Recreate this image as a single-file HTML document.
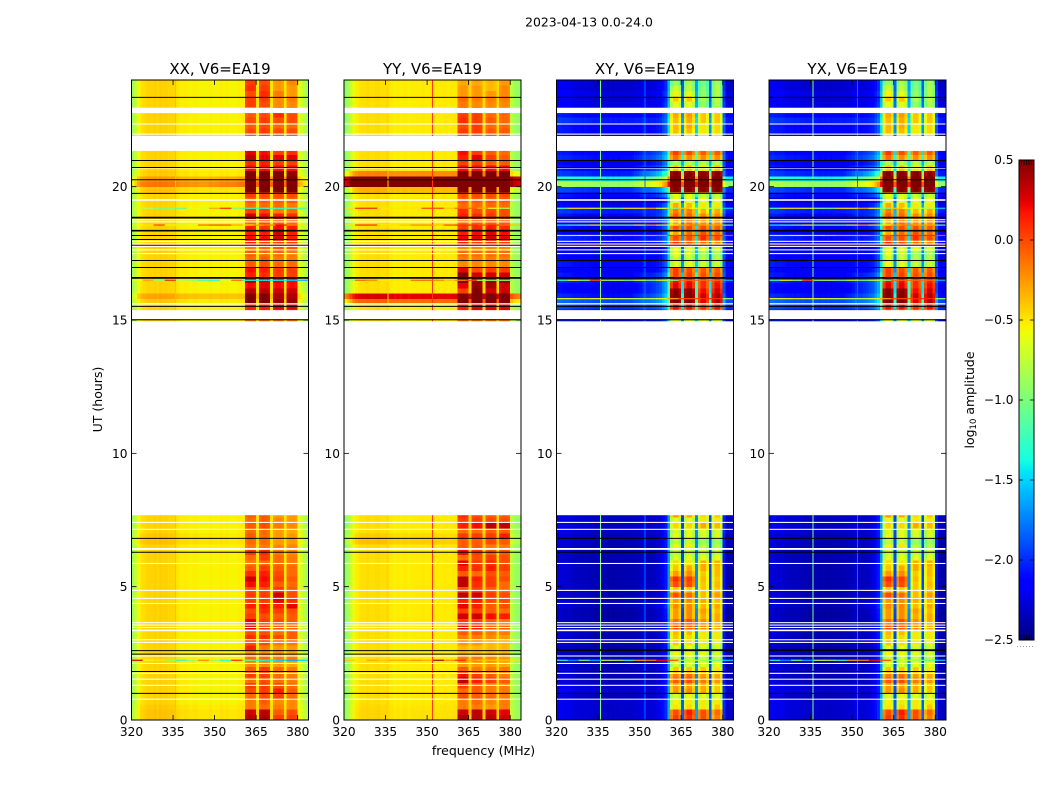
<!DOCTYPE html>
<html lang="en">
<head>
<meta charset="utf-8">
<title>2023-04-13 0.0-24.0</title>
<style>
html,body{margin:0;padding:0;background:#fff;width:1050px;height:800px;overflow:hidden}
svg{display:block}
text{font-family:"DejaVu Sans","Liberation Sans",sans-serif;fill:#000}
</style>
</head>
<body>
<svg id="chart" xmlns="http://www.w3.org/2000/svg" width="1050" height="800" viewBox="0 0 1050 800">
  <rect x="0" y="0" width="1050" height="800" fill="#fff"/>
  <text x="589" y="26.5" font-size="12.4" text-anchor="middle">2023-04-13 0.0-24.0</text>
  <text x="483.5" y="755" font-size="12.5" text-anchor="middle">frequency (MHz)</text>
  <text x="0" y="0" font-size="12.5" text-anchor="middle" transform="translate(102,399.5) rotate(-90)">UT (hours)</text>
  <text x="0" y="0" font-size="12.5" text-anchor="middle" transform="translate(974,400) rotate(-90)">log<tspan font-size="8.5" dy="2">10</tspan><tspan dy="-2"> amplitude</tspan></text>
  <g id="panels"></g>
  <g id="colorbar"></g>
</svg>
<script>
/* ---- axis data ---- */
const panelTitles = ["XX, V6=EA19", "YY, V6=EA19", "XY, V6=EA19", "YX, V6=EA19"];
const xTickLabels = [320, 335, 350, 365, 380];
const yTickLabels = [0, 5, 10, 15, 20];
const colorbarTicks = [-2.5, -2.0, -1.5, -1.0, -0.5, 0.0, 0.5];

/* ---- no-data bands, [start UT, end UT] ---- */
const gapBands = [
  [7.68,14.95],[15.03,15.37],[15.58,15.63],[17.47,17.51],[17.61,17.65],[17.74,17.78],[17.83,17.87],[17.93,17.97],
  [18.66,18.7],[18.74,18.78],[19.47,19.53],[20.68,20.71],[21.34,21.9],[21.95,21.99],[22.33,22.37],[22.76,22.96],
  [0.76,0.8],[1.28,1.32],[1.51,1.55],[1.73,1.77],[2.1,2.14],[2.38,2.42],[2.89,2.93],[2.99,3.03],[3.33,3.39],
  [3.45,3.49],[3.54,3.58],[3.63,3.67],[4.35,4.39],[4.54,4.58],[4.84,4.88],[5.85,5.89],[6.38,6.45],[7.13,7.17],[7.39,7.43]
];
/* ---- black flagged lines, UT ---- */
const thinLinesUT = [1.0,1.82,2.6,2.47,6.29,6.81,15.01,15.51,17.23,16.97,18.02,18.17,19.75,20.26,20.72,20.98,23.35];
const thickLinesUT = [16.58,18.35,18.84];
const xyThinLinesUT = [1.0,1.82,2.6,6.29,6.81,15.01,15.51,17.23,16.97,19.75,20.26,20.72,20.98,23.35];
const xyThickLinesUT = [16.58,18.35,18.84,2.62];

/* ---- channel grouping: 64 channels of 1 MHz from 320 MHz ---- */
const firstFrequency = 320;
const channelWidthMHz = 1;
const midChannels = [26, 40];
const bandChannels = [[41,44],[46,49],[51,54],[56,59]];

/* ---- quiet-time spectrum per polarisation ---- */
const xxSpectrum = [-.85,-.72,-.58,-.5,-.47,-.45,-.44,-.45,-.43,-.45,-.42,-.44,-.43,-.45,-.45,-.45,
  -.49,-.52,-.53,-.52,-.53,-.55,-.53,-.53,-.55,-.55,-.55,-.55,-.53,-.55,-.55,-.55,-.53,-.55,-.53,-.55,-.55,-.55,-.53,-.53,-.53,
  -.08,-.05,-.05,-.08,-.48,-.08,-.05,-.05,-.08,-.5,-.08,-.05,-.05,-.08,-.5,-.08,-.05,-.05,-.08,-.62,-.7,-.78,-.83];
const yySpectrum = [-.93,-.84,-.72,-.58,-.53,-.5,-.48,-.48,-.47,-.48,-.48,-.47,-.46,-.48,-.48,-.47,
  -.51,-.52,-.54,-.52,-.54,-.52,-.52,-.54,-.52,-.52,-.52,-.52,-.51,-.52,-.52,-.51,-.51,-.52,-.52,-.52,-.51,-.52,-.52,-.51,-.51,
  -.08,-.05,-.05,-.08,-.43,-.08,-.05,-.05,-.08,-.46,-.08,-.05,-.05,-.08,-.46,-.08,-.05,-.05,-.08,-.78,-.86,-.9,-.93];
const xySpectrum = [-2.3,-2.3,-2.32,-2.32,-2.32,-2.34,-2.36,-2.36,-2.36,-2.38,-2.36,-2.38,-2.38,-2.4,-2.4,-2.4,
  -2.4,-2.4,-2.42,-2.4,-2.42,-2.4,-2.42,-2.4,-2.4,-2.4,-2.4,-2.4,-2.38,-2.38,-2.36,-2.3,-2.36,-2.38,-2.36,-2.36,-2.33,-2.3,-2.2,-2.1,-1.7,
  -.1,.1,.1,-.1,-1.95,-.1,.1,.1,-.1,-1.75,-.1,.1,.1,-.1,-1.95,-.1,.1,.1,-.1,-2.1,-2.4,-2.42,-2.42];

/* ---- time rows: [UT, out-of-band delta, mid delta, band1..band4 level] ---- */
const rowHours = 0.2;
const xxRows = [
[0,.05,.05,.4,.45,.1,.1],[.2,.05,.05,.35,.4,0,.05],[.4,.03,.03,-.1,-.05,-.1,-.15],[.6,0,0,-.1,0,-.15,-.15],[.8,0,0,-.05,.05,.1,-.05],
[1,0,0,.05,.1,.2,0],[1.2,0,0,.1,.1,.05,-.05],[1.4,0,0,-.05,.05,-.05,-.1],[1.6,0,0,.1,.1,-.05,-.1],[1.8,0,0,0,.1,-.05,-.1],
[2,0,0,-.15,-.15,-.2,-.25],[2.2,0,0,-.05,-.05,-.1,-.1],[2.4,0,0,-.2,-.2,-.2,-.25],[2.6,0,0,.2,-.1,-.2,-.2],[2.8,0,0,.05,.05,-.1,-.1],
[3,0,0,.15,.15,.05,0],[3.2,0,0,.05,.05,-.05,0],[3.4,0,0,.3,.1,0,-.05],[3.6,0,0,.3,.1,.05,0],[3.8,0,0,.1,.05,0,0],
[4,0,0,.05,.15,.1,.05],[4.2,0,0,.2,.2,.2,.3],[4.4,0,0,.1,.1,.3,.15],[4.6,0,0,.1,.1,.35,.05],[4.8,0,0,.05,.05,.1,0],
[5,0,0,.25,.2,0,-.05],[5.2,0,0,.35,.25,.1,0],[5.4,0,0,.15,.2,.05,-.05],[5.6,0,0,0,.1,0,-.05],[5.8,0,0,-.1,-.05,-.05,-.1],
[6,0,0,-.05,.1,-.05,-.1],[6.2,0,0,.1,.15,-.1,-.15],[6.4,0,0,-.1,-.1,-.15,-.15],[6.6,.06,.04,-.05,-.05,-.2,-.2],[6.8,.04,.02,0,-.05,-.2,-.2],
[7,0,0,-.05,-.05,-.2,-.25],[7.2,0,0,0,.05,-.1,-.15],[7.4,0,0,-.05,0,-.15,-.2],[7.6,0,0,0,0,-.2,-.2],
[14.8,0,0,-.1,-.1,-.1,-.1],[15,0,0,-.05,-.05,-.05,-.05],[15.2,0,0,.2,.2,.2,.2],[15.4,0,0,.2,.2,.3,.3],[15.6,.03,.03,.55,.55,.5,.5],
[15.8,.15,.15,.55,.55,.45,.45],[16,0,0,.4,.4,.35,.35],[16.2,0,0,.25,.3,.25,.25],[16.4,0,0,.4,.35,.3,.25],[16.6,0,0,.2,.15,.1,.1],
[16.8,0,0,.25,.2,.1,.1],[17,0,0,0,.05,-.05,-.05],[17.2,0,0,-.05,0,-.1,-.1],[17.4,0,0,0,-.05,-.05,-.1],[17.6,0,0,-.1,-.05,0,0],
[17.8,0,0,.2,.1,.1,.1],[18,0,0,.25,.25,.35,.2],[18.2,0,0,.2,.2,.35,.2],[18.4,0,0,.2,.15,.25,.2],[18.6,0,0,-.05,.05,0,-.05],
[18.8,0,0,.35,.25,.2,.15],[19,0,0,.1,.1,-.1,-.05],[19.2,0,0,-.05,-.05,-.05,-.1],[19.4,0,0,0,0,0,0],[19.6,0,0,.1,.05,.05,.05],
[19.8,.05,.05,.6,.6,.6,.6],[20,.3,.4,.7,.7,.7,.6],[20.2,.18,.25,.6,.6,.6,.6],[20.4,.03,.03,.6,.6,.6,.5],[20.6,0,0,.25,.25,.25,.25],
[20.8,0,0,.15,.2,.1,.1],[21,0,0,.4,.3,.3,.3],[21.2,0,0,.3,.25,.1,.15],[21.4,0,0,0,0,0,0],[21.6,0,0,0,0,0,0],
[21.8,0,0,0,.05,0,0],[22,0,0,.05,.1,.05,.05],[22.2,0,0,0,.05,-.05,-.05],[22.4,0,0,.05,.1,.05,.05],[22.6,0,0,0,.05,.15,.05],
[22.8,0,0,0,0,0,0],[23,0,0,.1,.05,-.15,-.15],[23.2,0,0,.1,.1,-.15,-.1],[23.4,0,0,.05,.15,-.1,-.2],[23.6,0,0,.15,.1,-.2,-.2],[23.8,0,0,.1,.05,-.2,-.15]
];
const yyRows = [
[0,.03,.03,.45,.4,.4,.35],[.2,.03,.03,.35,.4,.35,.3],[.4,.02,.02,-.1,-.1,-.2,-.1],[.6,0,0,-.1,-.05,-.15,-.1],[.8,0,0,.05,0,-.05,-.1],
[1,0,0,-.05,0,-.1,-.1],[1.2,0,0,.1,0,-.1,-.1],[1.4,0,0,.4,.2,.1,0],[1.6,0,0,.25,.1,0,-.1],[1.8,0,0,0,-.1,-.1,-.1],
[2,0,0,-.2,-.2,-.2,-.25],[2.2,0,0,-.1,-.1,-.15,-.2],[2.4,0,0,-.3,-.3,-.3,-.3],[2.6,0,0,-.3,-.3,-.3,-.3],[2.8,0,0,-.2,-.2,-.3,-.3],
[3,0,0,-.1,-.1,-.15,-.2],[3.2,0,0,0,0,-.1,-.1],[3.4,0,0,.3,.2,0,0],[3.6,0,0,.1,.1,0,-.1],[3.8,0,0,.35,.35,.25,.2],
[4,0,0,.1,.1,0,-.05],[4.2,0,0,.3,.2,0,.05],[4.4,0,0,.2,.2,.05,.05],[4.6,0,0,.4,.35,.1,.05],[4.8,0,0,.05,.1,0,-.05],
[5,0,0,.4,.15,.1,-.05],[5.2,0,0,.4,.2,.1,.05],[5.4,0,0,0,-.05,.05,0],[5.6,0,0,.2,.15,.2,.1],[5.8,0,0,.3,.1,.15,.05],
[6,0,0,-.05,.05,.1,.05],[6.2,0,0,.25,.1,0,0],[6.4,0,0,0,0,-.1,-.1],[6.6,.1,.08,0,0,.05,0],[6.8,.06,.04,.1,.1,.1,.2],
[7,0,0,-.05,-.05,0,0],[7.2,0,0,.2,.25,.4,.4],[7.4,0,0,.1,.1,.05,.05],[7.6,0,0,.15,.05,0,0],
[14.8,0,0,-.1,-.1,-.1,-.1],[15,0,0,-.05,-.05,-.05,-.05],[15.2,0,0,.2,.3,.3,.3],[15.4,0,0,.2,.3,.3,.3],[15.6,.4,.4,.6,.6,.6,.6],
[15.8,.75,.75,.6,.6,.6,.6],[16,0,0,.1,.55,.35,.35],[16.2,0,0,.3,.5,.45,.35],[16.4,0,0,.55,.5,.5,.5],[16.6,0,0,.55,.35,.35,.35],
[16.8,0,0,.3,.05,.1,.1],[17,0,0,-.15,-.15,-.15,-.15],[17.2,0,0,-.1,-.1,-.1,-.1],[17.4,0,0,-.05,-.05,-.05,-.05],[17.6,0,0,-.15,-.15,-.15,-.15],
[17.8,0,0,.2,.1,.15,.1],[18,0,0,.3,.3,.35,.3],[18.2,0,0,.2,.25,.3,.25],[18.4,0,0,.1,.15,.2,.15],[18.6,0,0,-.05,0,0,0],
[18.8,0,0,.2,.15,.1,.05],[19,0,0,.15,.05,.05,.05],[19.2,0,0,-.05,-.05,-.05,-.05],[19.4,0,0,0,0,0,0],[19.6,0,0,.05,.05,.05,.05],
[19.8,.15,.15,.6,.6,.6,.6],[20,1.2,1.2,.8,.8,.8,.8],[20.2,1.2,1.2,.8,.8,.8,.8],[20.4,.3,.3,.6,.6,.6,.6],[20.6,0,0,.25,.25,.25,.25],
[20.8,0,0,.1,.1,0,0],[21,0,0,.2,.3,.1,0],[21.2,0,0,.25,.1,0,-.05],[21.4,0,0,0,0,0,0],[21.6,0,0,0,0,0,0],
[21.8,0,0,.05,0,0,0],[22,0,0,.1,.1,0,0],[22.2,0,0,.05,.1,-.05,-.05],[22.4,0,0,.15,.1,0,-.05],[22.6,0,0,.1,.1,-.05,-.05],
[22.8,0,0,.1,.05,-.05,-.05],[23,0,0,-.1,-.15,-.15,-.15],[23.2,0,0,-.05,-.1,-.1,-.1],[23.4,0,0,-.2,-.2,-.2,-.15],[23.6,0,0,-.2,-.2,-.3,-.15],[23.8,0,0,-.25,-.25,-.3,-.2]
];
const xyRows = [
[0,.1,.1,-.05,0,-.1,-.25],[.2,.1,.1,-.1,.05,-.1,-.2],[.4,.1,.1,-.6,-.55,-.6,-.5],[.6,.1,.1,-.65,-.6,-.6,-.6],[.8,.05,.05,-.75,-.65,-.7,-.7],
[1,.12,.05,-.35,-.3,-.4,-.5],[1.2,.1,.05,-.35,-.35,-.4,-.5],[1.4,.05,.03,-.15,-.1,-.25,-.35],[1.6,.05,.03,-.25,-.2,-.35,-.4],[1.8,.05,.03,-.5,-.5,-.5,-.6],
[2,.03,.03,-.75,-.75,-.7,-.7],[2.2,.05,.05,-.8,-.75,-.8,-.8],[2.4,0,0,-.65,-.65,-.7,-.75],[2.6,0,0,-.75,-.7,-.75,-.8],[2.8,.03,.03,-.5,-.55,-.6,-.65],
[3,.03,.03,-.5,-.55,-.6,-.6],[3.2,.03,.03,-.45,-.45,-.6,-.6],[3.4,0,0,-.1,-.15,-.3,-.4],[3.6,0,0,-.2,-.1,-.3,-.4],[3.8,0,.02,-.35,-.3,-.4,-.4],
[4,0,.04,-.35,-.3,-.35,-.45],[4.2,.03,.1,-.3,-.3,-.45,-.4],[4.4,.02,.03,-.35,-.3,-.4,-.45],[4.6,.03,.03,-.1,-.2,-.45,-.35],[4.8,.03,.03,-.5,-.5,-.5,-.5],
[5,.03,.03,-.1,-.1,-.5,-.45],[5.2,.03,.03,0,-.05,-.45,-.5],[5.4,.03,.03,-.35,-.3,-.5,-.45],[5.6,.03,.03,-.5,-.4,-.4,-.45],[5.8,.03,.03,-.55,-.6,-.4,-.4],
[6,.03,.03,-.75,-.7,-.7,-.7],[6.2,.03,.03,-.8,-.8,-.8,-.8],[6.4,.03,.03,-.65,-.6,-.8,-.85],[6.6,.05,.03,-.85,-.8,-.95,-.95],[6.8,.05,.03,-.7,-.7,-.75,-.75],
[7,.08,.03,-.75,-.7,-.7,-.75],[7.2,.08,.03,-.55,-.55,-.4,-.45],[7.4,.08,.03,-.7,-.7,-.6,-.6],[7.6,.08,.03,-.35,-.4,-.55,-.5],
[14.8,.3,.3,-.7,-.7,-.7,-.7],[15,.1,.1,-.7,-.7,-.7,-.7],[15.2,.3,.3,-.2,-.2,-.2,-.2],[15.4,.4,.5,.1,.1,0,.1],[15.6,.5,.7,.5,.5,.15,.3],
[15.8,.3,.6,.5,.5,.2,.3],[16,.2,.5,.45,.45,.1,.2],[16.2,.2,.5,.15,.15,0,.1],[16.4,.3,.5,.1,.1,0,.05],[16.6,.25,.4,-.05,-.05,-.1,-.1],
[16.8,.2,.25,-.05,-.1,-.15,-.15],[17,.25,.25,-.7,-.7,-.8,-.8],[17.2,.2,.2,-.8,-.8,-.85,-.85],[17.4,.2,.2,-.7,-.75,-.9,-.9],[17.6,.1,.1,-.7,-.7,-.7,-.75],
[17.8,.25,.3,0,-.1,-.2,-.3],[18,.3,.3,-.1,-.1,0,-.1],[18.2,.2,.25,-.4,-.2,-.1,-.2],[18.4,.25,.3,-.1,-.1,-.1,-.15],[18.6,.15,.25,-.4,-.2,-.3,-.3],
[18.8,.25,.4,-.15,-.2,-.3,-.3],[19,.35,.35,-.25,-.25,-.45,-.4],[19.2,.2,.3,-.4,-.45,-.6,-.6],[19.4,.1,.1,-.7,-.7,-.7,-.7],[19.6,.25,.4,-.7,-.7,-.8,-.8],
[19.8,.4,.7,.5,.5,.5,.5],[20,1.5,1.9,.7,.7,.7,.6],[20.2,1.0,1.5,.7,.7,.7,.6],[20.4,.35,.9,.5,.5,.5,.45],[20.6,.25,.5,-.5,-.5,-.6,-.5],
[20.8,.2,.35,-.9,-.85,-.85,-.85],[21,.3,.6,-.2,-.3,-.3,-.3],[21.2,.25,.5,-.05,-.1,-.15,-.15],[21.4,.1,.1,-.5,-.5,-.5,-.5],[21.6,.1,.1,-.5,-.5,-.5,-.5],
[21.8,.1,.1,-.6,-.6,-.6,-.6],[22,.25,.25,-.45,-.45,-.6,-.55],[22.2,.25,.25,-.45,-.4,-.6,-.55],[22.4,.35,.3,-.45,-.4,-.5,-.5],[22.6,.25,.25,-.4,-.35,-.5,-.5],
[22.8,.15,.15,-.6,-.6,-.7,-.7],[23,.15,.15,-.7,-.7,-1,-.9],[23.2,.1,.1,-.5,-.5,-.9,-.85],[23.4,.15,.15,-.65,-.7,-1,-.9],[23.6,.1,.1,-.8,-.85,-1.05,-.9],[23.8,.1,.1,-1,-.9,-1.1,-.95]
];
const yxRows = xyRows;

/* ---- narrow-band interference rows: [UT, 16 block values, 4 channels per block] ---- */
const xxRfiRows = [
[2.24,.3,-.6,-.5,-.9,-1.3,-.9,-.2,-.9,-1.3,.1,-1,-1.3,-1.4,-1.5,-1.6,-1.5],
[16.49,-.6,-.3,-.9,.1,-.8,-.9,-1.2,-1.3,-.6,-.1,-1.3,-1.4,-1.4,-1.4,-1.5,-1.6],
[17.8,.5,.5,.5,.5,.5,.5,.5,.5,.5,.5,.5,.5,.5,.5,.5,.5],
[18.56,-.6,-.5,0,-.6,-.7,-.6,-.1,0,0,-.3,-.5,-.3,-.2,.2,-.2,-.5],
[19.19,-.7,-.8,-1,-1,-1.1,-.6,-.7,-.3,.1,-1,-1.2,-1.3,-1.2,-1.3,-1.2,-1.2]
];
const yyRfiRows = [
[2.24,-.4,-.5,-.3,-.4,-.3,-.3,-.2,-.3,.4,-.2,.1,-.3,-.4,-.4,-.4,-.5],
[16.49,-.9,-.1,-.2,-.5,-.5,-.5,-.1,-.1,-.2,-.4,-.2,0,-.8,-.9,-.9,-.9],
[17.8,.5,.5,.5,.5,.5,.5,.5,.5,.5,.5,.5,.5,.5,.5,.5,.5],
[18.56,-.5,.1,.1,-.5,-.5,-.4,-.2,-.2,-.4,0,.1,.1,0,.1,-.1,-.4],
[19.19,-.5,.1,.1,-.5,-.5,-.5,-.5,0,0,-.4,-.1,-.1,-.3,-.6,-.8,-.9]
];
const xyRfiRows = [
[2.24,-1.3,-1.7,-1,-1.6,-.7,-.8,-1.2,-.3,-.2,.2,0,-.9,-.7,-.9,-1.1,-1.5],
[15.8,-.6,-.6,-.5,-.6,-.6,-.7,-.7,-.8,-.7,-.6,-.3,0,0,.1,.1,-.9],
[16.49,-1.2,-.6,-.9,0,-.9,-.8,-1,-.7,-1,-.7,-1,-.1,-.1,-.1,-.1,-1.6],
[17.8,.5,.5,.5,.5,.5,.5,.5,.5,.5,.5,.5,.5,.5,.5,.5,.5],
[18.17,-.8,-.8,-.6,-.5,-.5,-.4,-.3,-.3,-.3,-.2,0,.1,.1,.1,.1,0],
[18.56,-1.4,-1.2,-1,-.6,-1,-1,-1,-.6,-.3,-.5,-.6,-.3,-.2,-.3,-.3,-1],
[19.19,-1.1,-.5,-.5,-.6,-.9,-1,-.5,-.5,-.3,-.6,-1,-.4,-.6,-.7,-.8,-1.5]
];
const yxRfiRows = xyRfiRows;

/* ---- steady narrow carriers: [MHz, value] ---- */
const xxCarriers = [[335.8,-.38]];
const yyCarriers = [[351.9,.05],[335.8,-.43]];
const xyCarriers = [[335.8,-1.0],[351.9,-1.8]];
const yxCarriers = xyCarriers;

const panelRows = [xxRows, yyRows, xyRows, yxRows];
const panelSpectra = [xxSpectrum, yySpectrum, xySpectrum, xySpectrum];
const panelRfi = [xxRfiRows, yyRfiRows, xyRfiRows, yxRfiRows];
const panelCarriers = [xxCarriers, yyCarriers, xyCarriers, yxCarriers];
const panelThin = [thinLinesUT, thinLinesUT, xyThinLinesUT, xyThinLinesUT];
const panelThick = [thickLinesUT, thickLinesUT, xyThickLinesUT, xyThickLinesUT];

/* ---- scales ---- */
const NS = "http://www.w3.org/2000/svg";
const plotTop = 80, plotBottom = 720, plotWidth = 177, pxPerMHz = 2.77;
const vMin = -2.5, vMax = 0.5;
function panelLeft(i){ return 131.5 + 212.5 * i; }
function xScale(i, f){ return panelLeft(i) + (f - firstFrequency) * pxPerMHz; }
function yScale(ut){ return plotBottom - ut * (plotBottom - plotTop) / 24; }
function interp(t, pts){
  for (let k = 1; k < pts.length; k++) {
    if (t <= pts[k][0]) {
      const a = pts[k-1], b = pts[k];
      return a[1] + (b[1]-a[1]) * (t-a[0]) / (b[0]-a[0]);
    }
  }
  return pts[pts.length-1][1];
}
function jet(v){
  const t = Math.min(1, Math.max(0, (v - vMin) / (vMax - vMin)));
  const r = interp(t, [[0,0],[.35,0],[.66,1],[.89,1],[1,.5]]);
  const g = interp(t, [[0,0],[.125,0],[.375,1],[.64,1],[.91,0],[1,0]]);
  const b = interp(t, [[0,.5],[.11,1],[.34,1],[.65,0],[1,0]]);
  return "rgb(" + Math.round(r*255) + "," + Math.round(g*255) + "," + Math.round(b*255) + ")";
}
/* delta applied to a channel for a given time row */
function rowDelta(row, ch){
  for (let b = 0; b < bandChannels.length; b++) {
    if (ch >= bandChannels[b][0] && ch <= bandChannels[b][1]) return row[3 + b];
  }
  if (ch >= midChannels[0] && ch <= midChannels[1]) {
    const w = (ch - midChannels[0]) / (midChannels[1] - midChannels[0]);
    return row[1] + (row[2] - row[1]) * w;
  }
  return ch > midChannels[1] && ch < bandChannels[3][1] ? row[2] : row[1];
}
function make(tag, attrs, parent){
  const el = document.createElementNS(NS, tag);
  for (const k in attrs) el.setAttribute(k, attrs[k]);
  parent.appendChild(el);
  return el;
}

/* ---- panels ---- */
const panelsRoot = document.getElementById("panels");
panelTitles.forEach(function(title, p){
  const g = make("g", {}, panelsRoot);
  
  
  const left = panelLeft(p);
  const spectrum = panelSpectra[p];

  const cells = make("g", {"shape-rendering": "crispEdges"}, g);
  
  
  panelRows[p].forEach(function(row){
    const y0 = yScale(row[0] + rowHours), y1 = yScale(row[0]);
    spectrum.forEach(function(base, ch){
      const f = firstFrequency + ch * channelWidthMHz;
      const cell = make("rect", {
        x: xScale(p, f), y: y0,
        width: pxPerMHz * channelWidthMHz + 0.3, height: y1 - y0 + 0.3,
        fill: jet(base + rowDelta(row, ch))
      }, cells);
      
      
    });
  });

  panelCarriers[p].forEach(function(c){
    const carrier = make("rect", {
      x: xScale(p, c[0]) - 0.5, y: plotTop, width: 1, height: plotBottom - plotTop,
      fill: jet(c[1]), "shape-rendering": "crispEdges"
    }, g);
    
    
  });

  panelRfi[p].forEach(function(r){
    for (let b = 0; b < 16; b++) {
      const f = firstFrequency + b * 4 * channelWidthMHz;
      const rfi = make("rect", {
        x: xScale(p, f), y: yScale(r[0]) - 0.6,
        width: 4 * pxPerMHz + 0.3, height: 1.2,
        fill: jet(r[b + 1])
      }, g);
      
      
    }
  });

  gapBands.forEach(function(band){
    const gap = make("rect", {
      x: left - 0.5, y: yScale(band[1]), width: plotWidth + 1,
      height: yScale(band[0]) - yScale(band[1]), fill: "#fff"
    }, g);
    
    
  });

  panelThin[p].forEach(function(ut){
    const line = make("line", {x1: left, x2: left + plotWidth, y1: yScale(ut), y2: yScale(ut), stroke: "#000", "stroke-width": 1}, g);
    
    
  });
  panelThick[p].forEach(function(ut){
    const line = make("line", {x1: left, x2: left + plotWidth, y1: yScale(ut), y2: yScale(ut), stroke: "#000", "stroke-width": 1.7}, g);
    
    
  });

  xTickLabels.forEach(function(f){
    const x = xScale(p, f);
    const tb = make("line", {x1: x, x2: x, y1: plotBottom, y2: plotBottom - 5, stroke: "#000", "stroke-width": 0.8}, g);
    
    
    const tt = make("line", {x1: x, x2: x, y1: plotTop, y2: plotTop + 5, stroke: "#000", "stroke-width": 0.8}, g);
    
    
    const lab = make("text", {x: x, y: 736, "font-size": 12.2, "text-anchor": "middle"}, g);
    
    
    lab.textContent = f;
  });
  yTickLabels.forEach(function(ut){
    const y = yScale(ut);
    const tl = make("line", {x1: left, x2: left + 5, y1: y, y2: y, stroke: "#000", "stroke-width": 0.8}, g);
    
    
    const tr = make("line", {x1: left + plotWidth, x2: left + plotWidth - 5, y1: y, y2: y, stroke: "#000", "stroke-width": 0.8}, g);
    
    
    const lab = make("text", {x: left - 4, y: y + 4.5, "font-size": 12.2, "text-anchor": "end"}, g);
    
    
    lab.textContent = ut;
  });

  const frame = make("rect", {x: left, y: plotTop, width: plotWidth, height: plotBottom - plotTop, fill: "none", stroke: "#000", "stroke-width": 1}, g);
  
  

  const head = make("text", {x: left + plotWidth / 2, y: 74, "font-size": 15, "text-anchor": "middle"}, g);
  
  
  head.textContent = title;
});

/* ---- colorbar ---- */
const cbarRoot = document.getElementById("colorbar");
const cbarLeft = 1019, cbarRight = 1034, cbarTop = 160, cbarBottom = 640;
function cbarY(v){ return cbarBottom - (v - vMin) * (cbarBottom - cbarTop) / (vMax - vMin); }
const defs = make("defs", {}, cbarRoot);
const grad = make("linearGradient", {id: "jetGradient", x1: 0, x2: 0, y1: 1, y2: 0}, defs);
for (let k = 0; k <= 64; k++) {
  make("stop", {offset: k / 64, "stop-color": jet(vMin + (vMax - vMin) * k / 64)}, grad);
}
const bar = make("rect", {x: cbarLeft, y: cbarTop, width: cbarRight - cbarLeft, height: cbarBottom - cbarTop, fill: "url(#jetGradient)", stroke: "#000", "stroke-width": 1}, cbarRoot);


colorbarTicks.forEach(function(v){
  const y = cbarY(v);
  const a = make("line", {x1: cbarLeft, x2: cbarLeft + 4, y1: y, y2: y, stroke: "#000", "stroke-width": 0.8}, cbarRoot);
  
  
  const b = make("line", {x1: cbarRight - 4, x2: cbarRight, y1: y, y2: y, stroke: "#000", "stroke-width": 0.8}, cbarRoot);
  
  
  const lab = make("text", {x: 1013.5, y: y + 4, "font-size": 12.2, "text-anchor": "end"}, cbarRoot);
  
  
  lab.textContent = v.toFixed(1).replace("-", "\u2212");
});
for (let k = 1; k <= 5; k++) {
  const x = cbarLeft + k * 2.5;
  const top = make("line", {x1: x, x2: x, y1: cbarTop, y2: cbarTop + 5, stroke: "#000", "stroke-width": 0.8}, cbarRoot);
  
  
  const bottom = make("line", {x1: x, x2: x, y1: cbarBottom, y2: cbarBottom - 5, stroke: "#000", "stroke-width": 0.8}, cbarRoot);
  
  
}
const dots = make("line", {x1: 1017, x2: 1035, y1: 646.5, y2: 646.5, stroke: "#999", "stroke-width": 1, "stroke-dasharray": "1 2"}, cbarRoot);


</script>
</body>
</html>
